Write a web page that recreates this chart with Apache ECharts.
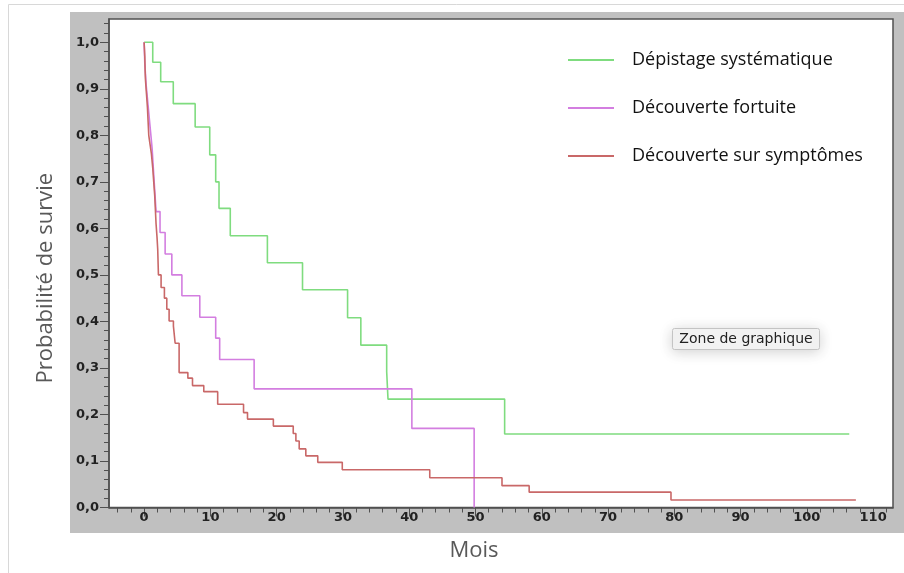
<!DOCTYPE html>
<html><head><meta charset="utf-8">
<script src="https://cdn.jsdelivr.net/npm/echarts@6/dist/echarts.min.js"></script>
<style>html,body{margin:0;padding:0;background:#fff}#c{width:904px;height:573px}</style>
</head><body><div id="c"></div>
<script>
// ---- data (months, survival probability) ----
const seriesNames = ['Dépistage systématique', 'Découverte fortuite', 'Découverte sur symptômes'];
const seriesColors = ['#7fdc7f', '#d37ee0', '#c96868'];

const depistageMonths = [0, 1.3, 2.5, 4.4, 7.7, 9.9, 10.8, 11.3, 13.0, 18.6, 23.9, 30.7, 32.7, 36.6, 36.8, 54.4, 106.4];
const depistageSurv   = [1.0, 0.957, 0.915, 0.868, 0.818, 0.758, 0.700, 0.643, 0.584, 0.526, 0.468, 0.408, 0.349, 0.292, 0.233, 0.158, 0.158];

const fortuiteMonths = [0, 0.1, 0.3, 0.6, 0.9, 1.2, 1.4, 1.6, 1.8, 2.4, 3.17, 4.18, 5.7, 8.4, 10.8, 11.4, 16.6, 40.4, 49.8];
const fortuiteSurv   = [1.0, 0.955, 0.909, 0.864, 0.818, 0.773, 0.727, 0.682, 0.636, 0.591, 0.545, 0.5, 0.455, 0.409, 0.364, 0.318, 0.255, 0.17, 0];

const symptomesMonths = [0, 0.1, 0.15, 0.2, 0.35, 0.5, 0.6, 0.7, 0.9, 1.1, 1.3, 1.45, 1.6, 1.7, 1.8, 1.95, 2.05, 2.16, 2.56, 3.06, 3.42, 3.77, 4.42, 4.68, 5.28, 6.6, 7.3, 9.0, 11.1, 15.0, 15.6, 19.5, 22.5, 22.9, 23.4, 24.4, 26.2, 29.9, 43.1, 54.0, 58.1, 79.5, 107.4];
const symptomesSurv   = [1.0, 0.97, 0.94, 0.92, 0.89, 0.86, 0.83, 0.80, 0.78, 0.76, 0.73, 0.70, 0.67, 0.64, 0.61, 0.58, 0.555, 0.50, 0.473, 0.45, 0.426, 0.401, 0.39, 0.353, 0.29, 0.278, 0.262, 0.249, 0.222, 0.204, 0.19, 0.175, 0.159, 0.143, 0.126, 0.111, 0.097, 0.081, 0.064, 0.047, 0.033, 0.016, 0.016];

// ---- tick labels ----
const xMajorTicks = [0, 10, 20, 30, 40, 50, 60, 70, 80, 90, 100, 110];
const xMinorTicks = [-4, -2, 2, 4, 6, 8, 12, 14, 16, 18, 22, 24, 26, 28, 32, 34, 36, 38, 42, 44, 46, 48, 52, 54, 56, 58, 62, 64, 66, 68, 72, 74, 76, 78, 82, 84, 86, 88, 92, 94, 96, 98, 102, 104, 106, 108, 112];
const yMajorTicks = [0, 0.1, 0.2, 0.3, 0.4, 0.5, 0.6, 0.7, 0.8, 0.9, 1.0];
const yMinorTicks = [0.02, 0.04, 0.06, 0.08, 0.12, 0.14, 0.16, 0.18, 0.22, 0.24, 0.26, 0.28, 0.32, 0.34, 0.36, 0.38, 0.42, 0.44, 0.46, 0.48, 0.52, 0.54, 0.56, 0.58, 0.62, 0.64, 0.66, 0.68, 0.72, 0.74, 0.76, 0.78, 0.82, 0.84, 0.86, 0.88, 0.92, 0.94, 0.96, 0.98, 1.02, 1.04];

const zip = (a, b) => a.map((v, i) => [v, b[i]]);
const seriesData = [
  zip(depistageMonths, depistageSurv),
  zip(fortuiteMonths, fortuiteSurv),
  zip(symptomesMonths, symptomesSurv)
];

const axisColor = '#505050';
const X_MIN = -5.3, X_MAX = 113, Y_MIN = 0, Y_MAX = 1.05;
const labelStyle = { fontFamily: 'DejaVu Sans', fontWeight: 'bold', fontSize: 13, color: '#222' };

const chart = echarts.init(document.getElementById('c'), null, { renderer: 'canvas' });
const option = {
  animation: false,
  backgroundColor: '#fff',
  grid: {
    left: 109, top: 19, right: 11, bottom: 65.5,
    show: true, backgroundColor: '#fff', borderColor: axisColor, borderWidth: 1.5,
    outerBoundsMode: 'none', containLabel: false
  },
  graphic: [
    { type: 'rect', z: -10, silent: true, shape: { x: 8.5, y: 4.5, width: 900, height: 580 },
      style: { fill: '#fff', stroke: '#d8d8d8', lineWidth: 1 } },
    { type: 'rect', z: -5, silent: true, shape: { x: 70, y: 12, width: 840, height: 521 },
      style: { fill: '#c0c0c0' } },
    { type: 'group', left: 672, top: 328, z: 100, children: [
      { type: 'rect', shape: { x: 0, y: 0, width: 147, height: 21, r: 2 },
        style: { fill: '#f4f4f4', stroke: '#c4c4c4', lineWidth: 1, shadowBlur: 14, shadowColor: 'rgba(0,0,0,0.18)', shadowOffsetY: 2 } },
      { type: 'text', x: 73.5, y: 11, style: { text: 'Zone de graphique', align: 'center', verticalAlign: 'middle',
        font: '14px "DejaVu Sans"', fill: '#222' } }
    ] }
  ],
  legend: seriesNames.map((n, i) => ({
    data: [n], orient: 'vertical', left: 568, top: [51, 99, 147][i], padding: 0,
    itemWidth: 46, itemHeight: 2, icon: 'rect', itemStyle: { borderWidth: 0 },
    selectedMode: false,
    formatter: '{a|{name}}',
    textStyle: { rich: { a: { fontFamily: 'Open Sans', fontSize: 18, lineHeight: 18, color: '#111', padding: [0, 0, 0, 13] } } }
  })),
  xAxis: [
    {
      type: 'value', min: X_MIN, max: X_MAX, position: 'bottom',
      axisLine: { show: true, onZero: false, lineStyle: { color: axisColor, width: 1.5 } },
      axisTick: { show: true, customValues: xMajorTicks, length: 9, lineStyle: { color: axisColor, width: 1 } },
      axisLabel: Object.assign({ customValues: xMajorTicks, margin: 4 }, labelStyle),
      splitLine: { show: false },
      name: 'Mois', nameLocation: 'middle', nameGap: 32,
      nameTextStyle: { fontFamily: 'Open Sans', fontSize: 22, color: '#595959', padding: [0, 54, 0, 0] }
    },
    {
      type: 'value', min: X_MIN, max: X_MAX, position: 'bottom',
      axisLine: { show: false, onZero: false },
      axisTick: { show: true, customValues: xMinorTicks, length: 5, lineStyle: { color: axisColor, width: 1 } },
      axisLabel: { show: false }, splitLine: { show: false }
    }
  ],
  yAxis: [
    {
      type: 'value', min: Y_MIN, max: Y_MAX, position: 'left',
      axisLine: { show: true, onZero: false, lineStyle: { color: axisColor, width: 1.5 } },
      axisTick: { show: true, customValues: yMajorTicks, length: 9, lineStyle: { color: axisColor, width: 1 } },
      axisLabel: Object.assign({ customValues: yMajorTicks, margin: 10,
        formatter: v => v.toFixed(1).replace('.', ',') }, labelStyle),
      splitLine: { show: false },
      name: 'Probabilité de survie', nameLocation: 'middle', nameGap: 52, nameRotate: 90,
      nameTextStyle: { fontFamily: 'Open Sans', fontSize: 22, color: '#595959', padding: [0, 30, 0, 0] }
    },
    {
      type: 'value', min: Y_MIN, max: Y_MAX, position: 'left',
      axisLine: { show: false, onZero: false },
      axisTick: { show: true, customValues: yMinorTicks, length: 5, lineStyle: { color: axisColor, width: 1 } },
      axisLabel: { show: false }, splitLine: { show: false }
    }
  ],
  series: seriesNames.map((n, i) => ({
    name: n, type: 'line', step: 'end', xAxisIndex: 0, yAxisIndex: 0,
    data: seriesData[i], showSymbol: false, symbol: 'none',
    color: seriesColors[i],
    lineStyle: { width: 1.6, color: seriesColors[i] },
    z: 2 + i
  }))
};
chart.setOption(option);
</script>
</body></html>
